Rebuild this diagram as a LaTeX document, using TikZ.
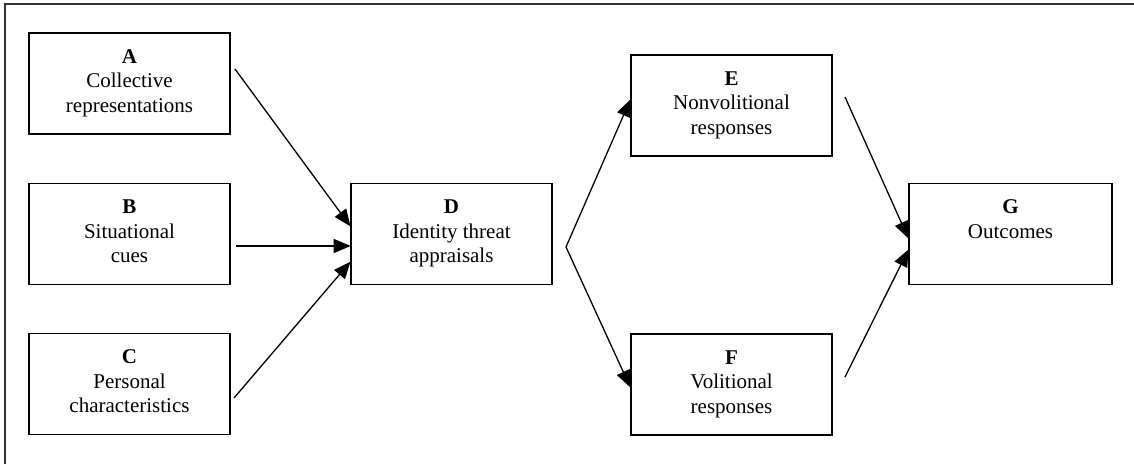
\documentclass[tikz,border=0pt]{standalone}
\usepackage{fontspec}
\setmainfont{Liberation Serif}
\usetikzlibrary{arrows.meta,calc}
\begin{document}
\begin{tikzpicture}[x=1pt,y=-1pt,
  boxnode/.style={draw, line width=1.6pt, minimum width=201pt, minimum height=101pt, inner sep=0pt},
  txt/.style={anchor=north, align=center, inner sep=0pt, font=\fontsize{21}{24.5}\selectfont},
  conn/.style={line width=1.3pt, -{Triangle[length=17pt,width=14pt]}, shorten >=-0.5pt},
  plain/.style={line width=1.3pt}]
\useasboundingbox (0,0) rectangle (1134,464);
\draw[line width=1.5pt, black!80] (5,464) -- (5,4) -- (1134,4);
\node[boxnode] (A) at (129.5,83.5) {};
\node[boxnode] (B) at (129.5,234) {};
\node[boxnode] (C) at (129.5,384) {};
\node[boxnode] (D) at (451.5,234) {};
\node[boxnode] (E) at (731.5,105.5) {};
\node[boxnode] (F) at (731.5,384.5) {};
\node[boxnode, minimum width=203pt] (G) at (1010.5,234) {};
\node[txt] (At) at ($(A.north)+(0,17)$) {\textbf{A}\\Collective\\representations};
\node[txt] (Bt) at ($(B.north)+(0,17)$) {\textbf{B}\\Situational\\cues};
\node[txt] (Ct) at ($(C.north)+(0,17)$) {\textbf{C}\\Personal\\characteristics};
\node[txt] (Dt) at ($(D.north)+(0,17)$) {\textbf{D}\\Identity threat\\appraisals};
\node[txt] (Et) at ($(E.north)+(0,17)$) {\textbf{E}\\Nonvolitional\\responses};
\node[txt] (Ft) at ($(F.north)+(0,17)$) {\textbf{F}\\Volitional\\responses};
\node[txt] (Gt) at ($(G.north)+(0,17)$) {\textbf{G}\\Outcomes};
\coordinate (a0) at (235,69);
\coordinate (b0) at (236,246);
\coordinate (c0) at (234,398);
\coordinate (v) at (566,247);
\coordinate (e0) at (845,97);
\coordinate (f0) at (845,377);
\draw[conn] (a0) -- (D.west |- 0,226);
\draw[conn] (b0) -- (D.west |- 0,246);
\draw[conn] (c0) -- (D.west |- 0,262);
\draw[conn] (v) -- (E.west |- 0,100);
\draw[conn] (v) -- (F.west |- 0,387);
\draw[conn] (e0) -- (G.west |- 0,238);
\draw[conn] (f0) -- (G.west |- 0,250);
\end{tikzpicture}
\end{document}
